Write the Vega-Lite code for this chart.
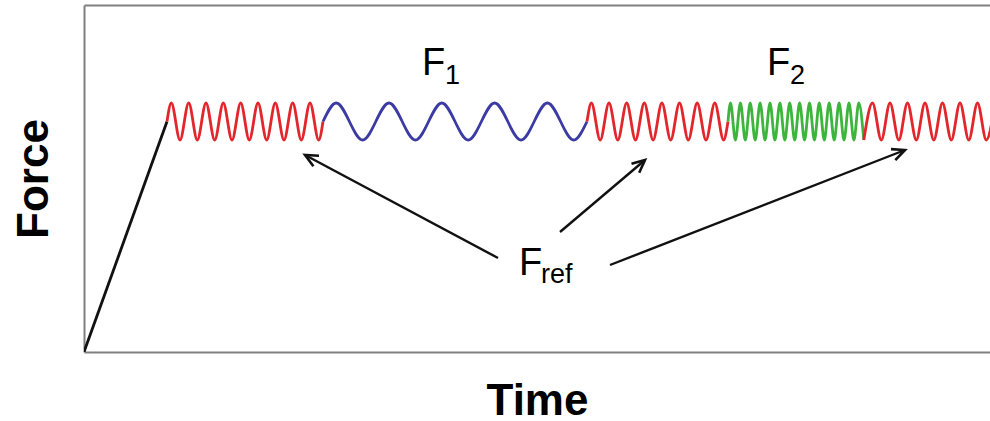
{
  "$schema": "https://vega.github.io/schema/vega-lite/v6.json",
  "width": 906,
  "height": 347,
  "autosize": "none",
  "padding": {"left": 84, "top": 5, "right": 0, "bottom": 69},
  "background": "white",
  "config": {
    "view": {"stroke": null},
    "font": "Liberation Sans",
    "axis": {"grid": false, "ticks": false, "labels": false, "domainColor": "#808080", "domainWidth": 2}
  },
  "datasets": {
    "wave": [
      {"t": 0, "f": 0, "s": "r0", "p": "ramp"},
      {"t": 83, "f": 230.5, "s": "r0", "p": "ramp"},
      {"t": 83, "f": 230.5, "s": "r1", "p": "ref"},
      {"t": 87.3, "f": 249, "s": "r1", "p": "ref"},
      {"t": 96, "f": 212, "s": "r1", "p": "ref"},
      {"t": 104.7, "f": 249, "s": "r1", "p": "ref"},
      {"t": 113.3, "f": 212, "s": "r1", "p": "ref"},
      {"t": 122, "f": 249, "s": "r1", "p": "ref"},
      {"t": 130.7, "f": 212, "s": "r1", "p": "ref"},
      {"t": 139.3, "f": 249, "s": "r1", "p": "ref"},
      {"t": 148, "f": 212, "s": "r1", "p": "ref"},
      {"t": 156.7, "f": 249, "s": "r1", "p": "ref"},
      {"t": 165.3, "f": 212, "s": "r1", "p": "ref"},
      {"t": 174, "f": 249, "s": "r1", "p": "ref"},
      {"t": 182.7, "f": 212, "s": "r1", "p": "ref"},
      {"t": 191.3, "f": 249, "s": "r1", "p": "ref"},
      {"t": 200, "f": 212, "s": "r1", "p": "ref"},
      {"t": 208.7, "f": 249, "s": "r1", "p": "ref"},
      {"t": 217.3, "f": 212, "s": "r1", "p": "ref"},
      {"t": 226, "f": 249, "s": "r1", "p": "ref"},
      {"t": 234.7, "f": 212, "s": "r1", "p": "ref"},
      {"t": 239, "f": 230.5, "s": "r1", "p": "ref"},
      {"t": 239, "f": 230.5, "s": "b", "p": "F1"},
      {"t": 252.2, "f": 249, "s": "b", "p": "F1"},
      {"t": 278.6, "f": 212, "s": "b", "p": "F1"},
      {"t": 305, "f": 249, "s": "b", "p": "F1"},
      {"t": 331.4, "f": 212, "s": "b", "p": "F1"},
      {"t": 357.8, "f": 249, "s": "b", "p": "F1"},
      {"t": 384.2, "f": 212, "s": "b", "p": "F1"},
      {"t": 410.6, "f": 249, "s": "b", "p": "F1"},
      {"t": 437, "f": 212, "s": "b", "p": "F1"},
      {"t": 463.4, "f": 249, "s": "b", "p": "F1"},
      {"t": 489.8, "f": 212, "s": "b", "p": "F1"},
      {"t": 503, "f": 230.5, "s": "b", "p": "F1"},
      {"t": 503, "f": 230.5, "s": "r2", "p": "ref"},
      {"t": 507.4, "f": 249, "s": "r2", "p": "ref"},
      {"t": 516.2, "f": 212, "s": "r2", "p": "ref"},
      {"t": 525, "f": 249, "s": "r2", "p": "ref"},
      {"t": 533.8, "f": 212, "s": "r2", "p": "ref"},
      {"t": 542.7, "f": 249, "s": "r2", "p": "ref"},
      {"t": 551.5, "f": 212, "s": "r2", "p": "ref"},
      {"t": 560.3, "f": 249, "s": "r2", "p": "ref"},
      {"t": 569.1, "f": 212, "s": "r2", "p": "ref"},
      {"t": 577.9, "f": 249, "s": "r2", "p": "ref"},
      {"t": 586.7, "f": 212, "s": "r2", "p": "ref"},
      {"t": 595.5, "f": 249, "s": "r2", "p": "ref"},
      {"t": 604.3, "f": 212, "s": "r2", "p": "ref"},
      {"t": 613.2, "f": 249, "s": "r2", "p": "ref"},
      {"t": 622, "f": 212, "s": "r2", "p": "ref"},
      {"t": 630.8, "f": 249, "s": "r2", "p": "ref"},
      {"t": 639.6, "f": 212, "s": "r2", "p": "ref"},
      {"t": 644, "f": 230.5, "s": "r2", "p": "ref"},
      {"t": 644, "f": 230.5, "s": "g", "p": "F2"},
      {"t": 646.5, "f": 249, "s": "g", "p": "F2"},
      {"t": 651.4, "f": 212, "s": "g", "p": "F2"},
      {"t": 656.4, "f": 249, "s": "g", "p": "F2"},
      {"t": 661.3, "f": 212, "s": "g", "p": "F2"},
      {"t": 666.2, "f": 249, "s": "g", "p": "F2"},
      {"t": 671.2, "f": 212, "s": "g", "p": "F2"},
      {"t": 676.1, "f": 249, "s": "g", "p": "F2"},
      {"t": 681, "f": 212, "s": "g", "p": "F2"},
      {"t": 686, "f": 249, "s": "g", "p": "F2"},
      {"t": 690.9, "f": 212, "s": "g", "p": "F2"},
      {"t": 695.9, "f": 249, "s": "g", "p": "F2"},
      {"t": 700.8, "f": 212, "s": "g", "p": "F2"},
      {"t": 705.7, "f": 249, "s": "g", "p": "F2"},
      {"t": 710.7, "f": 212, "s": "g", "p": "F2"},
      {"t": 715.6, "f": 249, "s": "g", "p": "F2"},
      {"t": 720.5, "f": 212, "s": "g", "p": "F2"},
      {"t": 725.5, "f": 249, "s": "g", "p": "F2"},
      {"t": 730.4, "f": 212, "s": "g", "p": "F2"},
      {"t": 735.3, "f": 249, "s": "g", "p": "F2"},
      {"t": 740.3, "f": 212, "s": "g", "p": "F2"},
      {"t": 745.2, "f": 249, "s": "g", "p": "F2"},
      {"t": 750.2, "f": 212, "s": "g", "p": "F2"},
      {"t": 755.1, "f": 249, "s": "g", "p": "F2"},
      {"t": 760, "f": 212, "s": "g", "p": "F2"},
      {"t": 765, "f": 249, "s": "g", "p": "F2"},
      {"t": 769.9, "f": 212, "s": "g", "p": "F2"},
      {"t": 774.8, "f": 249, "s": "g", "p": "F2"},
      {"t": 779.8, "f": 212, "s": "g", "p": "F2"},
      {"t": 779.8, "f": 212, "s": "r3", "p": "ref"},
      {"t": 788.5, "f": 249, "s": "r3", "p": "ref"},
      {"t": 797.3, "f": 212, "s": "r3", "p": "ref"},
      {"t": 806, "f": 249, "s": "r3", "p": "ref"},
      {"t": 814.8, "f": 212, "s": "r3", "p": "ref"},
      {"t": 823.5, "f": 249, "s": "r3", "p": "ref"},
      {"t": 832.3, "f": 212, "s": "r3", "p": "ref"},
      {"t": 841, "f": 249, "s": "r3", "p": "ref"},
      {"t": 849.8, "f": 212, "s": "r3", "p": "ref"},
      {"t": 858.5, "f": 249, "s": "r3", "p": "ref"},
      {"t": 867.3, "f": 212, "s": "r3", "p": "ref"},
      {"t": 876, "f": 249, "s": "r3", "p": "ref"},
      {"t": 884.8, "f": 212, "s": "r3", "p": "ref"},
      {"t": 893.5, "f": 249, "s": "r3", "p": "ref"},
      {"t": 902.3, "f": 212, "s": "r3", "p": "ref"},
      {"t": 911, "f": 249, "s": "r3", "p": "ref"}
    ],
    "shafts": [
      {"a": "A", "t": 414, "f": 94, "t2": 221, "f2": 197},
      {"a": "B", "t": 476, "f": 120, "t2": 561, "f2": 192},
      {"a": "C", "t": 526, "f": 87, "t2": 821, "f2": 202}
    ],
    "heads": [
      {"a": "A", "o": 0, "t": 229.4, "f": 185.8},
      {"a": "A", "o": 1, "t": 221, "f": 197},
      {"a": "A", "o": 2, "t": 235, "f": 196.2},
      {"a": "B", "o": 0, "t": 547.5, "f": 188.3},
      {"a": "B", "o": 1, "t": 561, "f": 192},
      {"a": "B", "o": 2, "t": 555.2, "f": 179.3},
      {"a": "C", "o": 0, "t": 807, "f": 202.9},
      {"a": "C", "o": 1, "t": 821, "f": 202},
      {"a": "C", "o": 2, "t": 811.3, "f": 191.9}
    ],
    "big": [
      {"t": 338, "f": 277, "label": "F"},
      {"t": 683, "f": 277, "label": "F"},
      {"t": 435, "f": 77, "label": "F"}
    ],
    "small": [
      {"t": 361, "f": 268, "label": "1"},
      {"t": 706, "f": 268, "label": "2"},
      {"t": 457, "f": 69, "label": "ref"}
    ]
  },
  "layer": [
    {
      "data": {"name": "wave"},
      "mark": {"type": "line", "interpolate": "monotone", "strokeWidth": 2.8, "clip": true},
      "encoding": {
        "x": {"field": "t", "type": "quantitative", "scale": {"domain": [0, 906], "nice": false, "zero": false},
          "axis": {"orient": "bottom", "title": "Time", "titleFontSize": 44, "titleFontWeight": "bold", "titleFont": "Liberation Sans", "titleColor": "#000000", "titlePadding": 27}},
        "y": {"field": "f", "type": "quantitative", "scale": {"domain": [0, 347], "nice": false, "zero": false},
          "axis": {"orient": "left", "title": "Force", "titleFontSize": 44, "titleFontWeight": "bold", "titleFont": "Liberation Sans", "titleColor": "#000000", "titlePadding": 28}},
        "color": {"field": "p", "type": "nominal", "scale": {"domain": ["ramp", "ref", "F1", "F2"], "range": ["#111111", "#e3262b", "#3b3ba3", "#3db53d"]}, "legend": null},
        "detail": {"field": "s"}
      }
    },
    {
      "data": {"name": "shafts"},
      "mark": {"type": "rule", "color": "#111111", "strokeWidth": 2.4},
      "encoding": {
        "x": {"field": "t", "type": "quantitative", "axis": {"orient": "top", "title": null}},
        "y": {"field": "f", "type": "quantitative"},
        "x2": {"field": "t2"},
        "y2": {"field": "f2"}
      }
    },
    {
      "data": {"name": "heads"},
      "mark": {"type": "line", "color": "#111111", "strokeWidth": 2.6, "strokeJoin": "miter"},
      "encoding": {
        "x": {"field": "t", "type": "quantitative", "axis": null},
        "y": {"field": "f", "type": "quantitative"},
        "detail": {"field": "a"},
        "order": {"field": "o", "type": "quantitative"}
      }
    },
    {
      "data": {"name": "big"},
      "mark": {"type": "text", "align": "left", "baseline": "alphabetic", "fontSize": 38, "font": "Liberation Sans", "color": "#000000"},
      "encoding": {
        "x": {"field": "t", "type": "quantitative", "axis": null},
        "y": {"field": "f", "type": "quantitative"},
        "text": {"field": "label"}
      }
    },
    {
      "data": {"name": "small"},
      "mark": {"type": "text", "align": "left", "baseline": "alphabetic", "fontSize": 27, "font": "Liberation Sans", "color": "#000000"},
      "encoding": {
        "x": {"field": "t", "type": "quantitative", "axis": null},
        "y": {"field": "f", "type": "quantitative"},
        "text": {"field": "label"}
      }
    }
  ],
  "resolve": {"axis": {"x": "independent"}}
}
